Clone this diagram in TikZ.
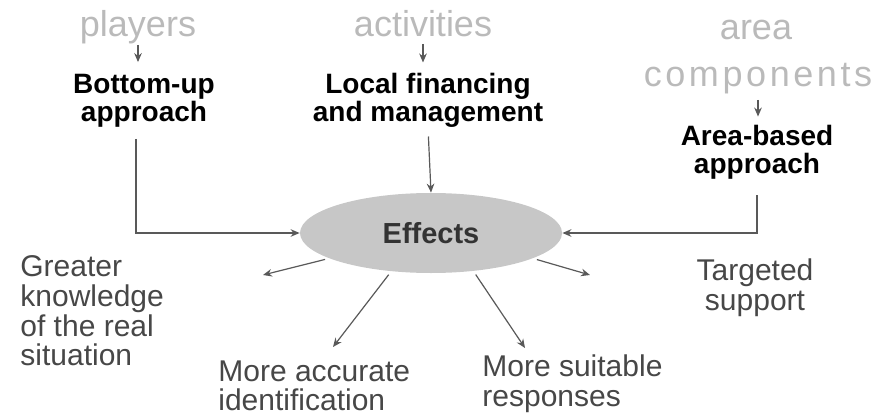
\documentclass[tikz,border=0pt]{standalone}
\usepackage{fontspec}
\setmainfont{Liberation Sans}
\usetikzlibrary{arrows.meta,shapes.geometric}
\begin{document}
\begin{tikzpicture}[>={Stealth[length=4.5pt,width=3.8pt]}, x=0.5pt, y=-0.5pt]
  \tikzset{topic/.style={text=black!27, font=\fontsize{18}{20}\selectfont, inner sep=0pt, anchor=base},
    field/.style={font=\bfseries\fontsize{14}{14}\selectfont, align=center, inner sep=0pt},
    result/.style={text=black!72, font=\fontsize{15}{14.8}\selectfont, align=left, inner sep=0pt},
    hub/.style={ellipse, fill=black!22, minimum width=131pt, minimum height=40pt, inner sep=0pt,
      text=black!80, font=\bfseries\fontsize{14.5}{15}\selectfont},
    link/.style={->, draw=black!65, line width=0.6pt}}
  \useasboundingbox (0,0) rectangle (877,417);
  \node[topic] (players) at (138,37) {players};
  \node[topic] (activities) at (423,37) {activities};
  \node[topic] (area) at (756,40) {area};
  \node[topic] (components) at (758,87) {\addfontfeature{LetterSpace=10}components};
  \node[field] (bottomup) at (144,101) {Bottom-up\\approach};
  \node[field] (localfin) at (428,100) {Local financing\\and management};
  \node[field] (areabased) at (757,152) {Area-based\\approach};
  \node[hub] (effects) at (431,233) {Effects};
  \node[result, anchor=west] (knowledge) at (20,311) {Greater\\knowledge\\of the real\\situation};
  \node[result, anchor=west] (identify) at (218,386) {More accurate\\identification};
  \node[result, anchor=west] (responses) at (482,384) {More suitable\\responses};
  \node[result, align=center] (support) at (755,288) {Targeted\\support};
  \coordinate (toknow) at (263,275);
  \coordinate (toident) at (333,347);
  \coordinate (toresp) at (525,348);
  \coordinate (tosupp) at (590,275);
  \draw[link, shorten >=6pt] (players.south) -- (players.south |- bottomup.north);
  \draw[link, shorten <=3pt, shorten >=5pt] (activities.south) -- (activities.south |- localfin.north);
  \draw[link, shorten <=2.5pt, shorten >=4pt] (components.south) -- (components.south |- areabased.north);
  \draw[link, shorten <=5.5pt] ([xshift=-4pt]bottomup.south) |- (effects.west);
  \draw[link, shorten <=4.5pt] (localfin.south) -- (effects.north);
  \draw[link, shorten <=8pt] (areabased.south) |- (effects.east);
  \draw[link, shorten <=2pt] (effects.194) -- (toknow);
  \draw[link, shorten <=2pt] (effects.224) -- (toident);
  \draw[link, shorten <=2pt] (effects.318) -- (toresp);
  \draw[link, shorten <=2pt] (effects.346) -- (tosupp);
\end{tikzpicture}
\end{document}
